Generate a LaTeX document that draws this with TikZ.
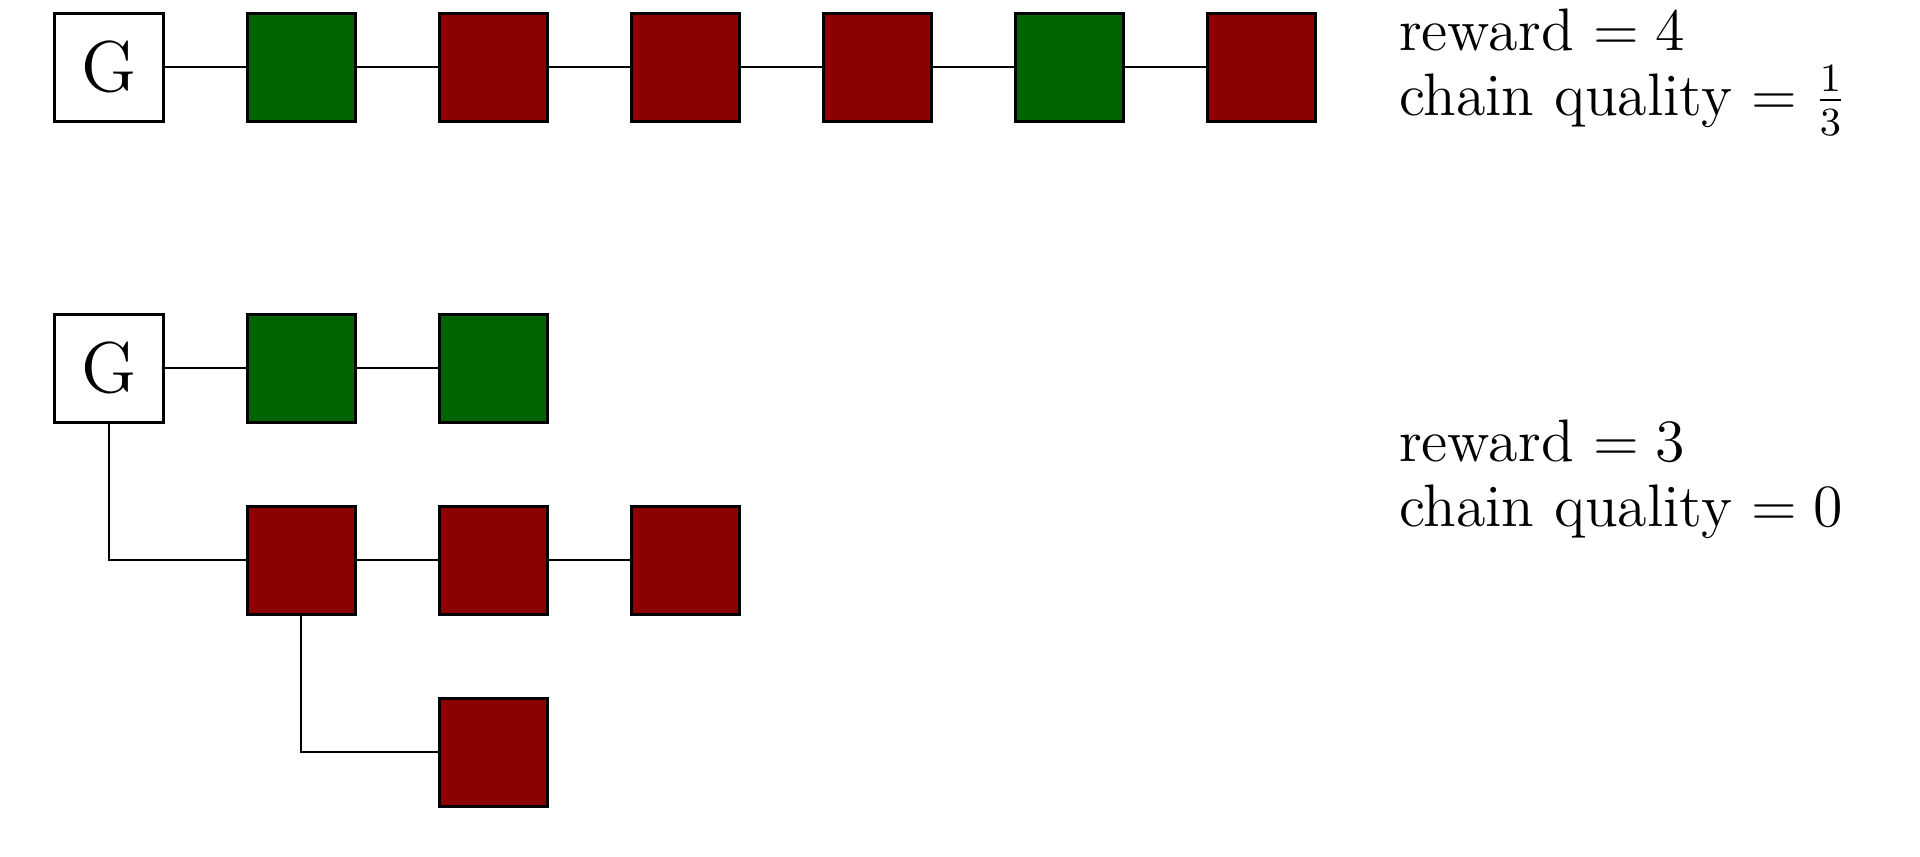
\documentclass[tikz,border=0pt]{standalone}
\definecolor{blkgreen}{RGB}{0,100,0}
\definecolor{blkred}{RGB}{139,0,0}
\tikzset{
  blockbox/.style={draw=black, line width=0.6pt, minimum size=21.6pt, inner sep=0pt},
  genesis/.style={blockbox, fill=white, font=\fontsize{14.4}{16}\selectfont},
  honest/.style={blockbox, fill=blkgreen},
  adversary/.style={blockbox, fill=blkred},
  link/.style={draw=black, line width=0.5pt},
  info/.style={anchor=base west, inner sep=0pt, font=\fontsize{12}{14}\selectfont}
}
\begin{document}
\begin{tikzpicture}[x=0.2pt, y=-0.2pt]
\useasboundingbox (0,0) rectangle (1920,856);
% top chain
\node[genesis] (ga) at (109,67) {G};
\node[honest] (a1) at (301,67) {};
\node[adversary] (a2) at (493,67) {};
\node[adversary] (a3) at (685,67) {};
\node[adversary] (a4) at (877,67) {};
\node[honest] (a5) at (1069,67) {};
\node[adversary] (a6) at (1261,67) {};
\draw[link] (ga) -- (a1);
\draw[link] (a1) -- (a2);
\draw[link] (a2) -- (a3);
\draw[link] (a3) -- (a4);
\draw[link] (a4) -- (a5);
\draw[link] (a5) -- (a6);
\node[info] (ta) at (1398,50) {reward $=4$};
\node[info] (tb) at (1398,115) {chain quality $=\frac{1}{3}$};
% bottom tree
\node[genesis] (gb) at (109,368) {G};
\node[honest] (b1) at (301,368) {};
\node[honest] (b2) at (493,368) {};
\node[adversary] (c1) at (301,560) {};
\node[adversary] (c2) at (493,560) {};
\node[adversary] (c3) at (685,560) {};
\node[adversary] (d1) at (493,752) {};
\draw[link] (gb) -- (b1);
\draw[link] (b1) -- (b2);
\draw[link] (gb.south) |- (c1.west);
\draw[link] (c1) -- (c2);
\draw[link] (c2) -- (c3);
\draw[link] (c1.south) |- (d1.west);
\node[info] (tc) at (1398,461) {reward $=3$};
\node[info] (td) at (1398,526) {chain quality $=0$};
\end{tikzpicture}
\end{document}
